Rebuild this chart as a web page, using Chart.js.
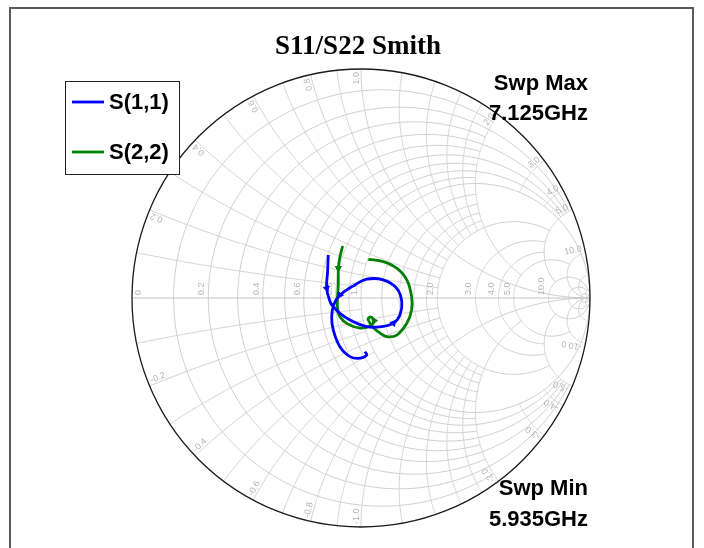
<!DOCTYPE html>
<html>
<head>
<meta charset="utf-8">
<script src="https://cdn.jsdelivr.net/npm/chart.js@4.4.1/dist/chart.umd.min.js"></script>
<style>
  html, body { margin: 0; padding: 0; background: #fff; }
  canvas { display: block; }
</style>
</head>
<body>
<canvas id="smith" width="704" height="548"></canvas>
<script>
const seriesLabels = ['S(1,1)', 'S(2,2)'];
const seriesColors = ['#0000ff', '#008000'];

const s11Re = [-0.143, -0.146, -0.150, -0.135, -0.121, -0.099, -0.048, 0.025, 0.090, 0.141, 0.170, 0.178, 0.156, 0.097, 0.025, -0.035, -0.092, -0.118, -0.128, -0.121, -0.092, -0.048, -0.004, 0.025, 0.017];
const s11Im = [0.188, 0.114, 0.042, -0.016, -0.038, -0.061, -0.096, -0.125, -0.125, -0.110, -0.074, -0.016, 0.042, 0.079, 0.082, 0.052, 0.013, -0.026, -0.082, -0.140, -0.213, -0.256, -0.263, -0.249, -0.234];
const s11Marks = [2, 9, 16];

const s22Re = [-0.080, -0.092, -0.099, -0.099, -0.103, -0.092, -0.057, -0.004, 0.039, 0.057, 0.044, 0.031, 0.052, 0.083, 0.112, 0.156, 0.200, 0.221, 0.221, 0.200, 0.156, 0.097, 0.032];
const s22Im = [0.227, 0.179, 0.130, 0.064, -0.038, -0.082, -0.114, -0.131, -0.122, -0.100, -0.083, -0.092, -0.127, -0.153, -0.169, -0.162, -0.110, -0.052, 0.006, 0.079, 0.130, 0.159, 0.169];
const s22Marks = [2, 9];

const sweepMax = ['Swp Max', '7.125GHz'];
const sweepMin = ['Swp Min', '5.935GHz'];

// smith grid: [value, how far the line runs along the other family]
const rCircles = [[0.1, 2], [0.2, 5], [0.3, 2], [0.4, 5], [0.5, 2], [0.6, 5], [0.7, 2], [0.8, 5], [0.9, 2], [1, 1e9],
  [1.2, 2], [1.4, 2], [1.6, 2], [1.8, 2], [2, 5], [3, 5], [4, 5], [5, 10], [10, 1e9], [20, 50], [50, 1e9]];
const xArcs = [[0.1, 1], [0.2, 2], [0.3, 1], [0.4, 2], [0.5, 1], [0.6, 2], [0.7, 1], [0.8, 2], [0.9, 1], [1, 1e9],
  [1.2, 2], [1.4, 2], [1.6, 2], [1.8, 2], [2, 5], [3, 1], [4, 1], [5, 10], [10, 1e9], [20, 50], [50, 1e9]];
const gridLabels = [0.2, 0.4, 0.6, 0.8, 1.0, 2.0, 3.0, 4.0, 5.0, 10.0];

function zToGamma(r, x) {
  const d = (r + 1) * (r + 1) + x * x;
  return [(r * r + x * x - 1) / d, 2 * x / d];
}

function toPoints(re, im) {
  return re.map((v, i) => ({ x: v, y: im[i] }));
}

// arrow direction (degrees, 0 = up) from one sample to the next
function markRotation(re, im) {
  return re.map((v, i) => {
    const j = Math.min(i + 1, re.length - 1), k = j === i ? i - 1 : i;
    const dx = re[j] - re[k], dy = im[j] - im[k];
    return Math.atan2(dx, dy) * 180 / Math.PI;
  });
}

const smithGrid = {
  id: 'smithGrid',
  beforeDatasetsDraw(chart) {
    const ctx = chart.ctx;
    const xs = chart.scales.x, ys = chart.scales.y;
    const px = g => [xs.getPixelForValue(g[0]), ys.getPixelForValue(g[1])];
    const N = 260;

    ctx.save();
    ctx.strokeStyle = '#cfcfcf';
    ctx.lineWidth = 1;

    rCircles.forEach(([r, xmax]) => {
      const a = Math.atan(xmax);
      ctx.beginPath();
      for (let i = 0; i <= N; i++) {
        const p = px(zToGamma(r, Math.tan(-a + 2 * a * i / N)));
        i ? ctx.lineTo(p[0], p[1]) : ctx.moveTo(p[0], p[1]);
      }
      ctx.stroke();
    });

    xArcs.forEach(([x, rmax]) => {
      const a = Math.atan(rmax);
      [x, -x].forEach(xv => {
        ctx.beginPath();
        for (let i = 0; i <= N; i++) {
          const p = px(zToGamma(Math.tan(a * i / N), xv));
          i ? ctx.lineTo(p[0], p[1]) : ctx.moveTo(p[0], p[1]);
        }
        ctx.stroke();
      });
    });

    // real axis
    const l = px([-1, 0]), rt = px([1, 0]);
    ctx.strokeStyle = '#c4c4c4';
    ctx.beginPath();
    ctx.moveTo(l[0], l[1]);
    ctx.lineTo(rt[0], rt[1]);
    ctx.stroke();

    // outer rim
    const c = px([0, 0]);
    const rad = xs.getPixelForValue(1) - c[0];
    ctx.strokeStyle = '#1a1a1a';
    ctx.lineWidth = 1.3;
    ctx.beginPath();
    ctx.arc(c[0], c[1], rad, 0, Math.PI * 2);
    ctx.stroke();

    // grid labels
    ctx.fillStyle = '#b4b4b4';
    ctx.font = '9px "Liberation Sans", Arial, sans-serif';
    [0].concat(gridLabels).forEach(r => {
      const p = px(zToGamma(r, 0));
      ctx.save();
      ctx.translate(r === 0 ? p[0] + 11 : p[0] - 2, p[1] - 3);
      ctx.rotate(-Math.PI / 2);
      ctx.textAlign = 'left';
      ctx.textBaseline = 'bottom';
      ctx.fillText(r === 0 ? '0' : r.toFixed(1), 0, 0);
      ctx.restore();
    });
    gridLabels.forEach(x => {
      [x, -x].forEach(xv => {
        const p = px(zToGamma(0, xv));
        const ang = Math.atan2(c[1] - p[1], c[0] - p[0]); // inward
        ctx.save();
        ctx.translate(p[0] + Math.cos(ang) * 3, p[1] + Math.sin(ang) * 3);
        if (xv > 0) {
          ctx.rotate(ang + Math.PI);
          ctx.textAlign = 'right';
        } else {
          ctx.rotate(ang);
          ctx.textAlign = 'left';
        }
        ctx.textBaseline = 'bottom';
        ctx.fillText((xv < 0 ? '-' : '') + x.toFixed(1), 0, 0);
        ctx.restore();
      });
    });
    ctx.restore();
  }
};

const decorations = {
  id: 'decorations',
  afterDraw(chart) {
    const ctx = chart.ctx;
    ctx.save();

    // outer frame
    ctx.strokeStyle = '#5a5a5a';
    ctx.lineWidth = 2;
    ctx.strokeRect(10, 8, 683, 560);

    // title
    ctx.fillStyle = '#000';
    ctx.font = 'bold 27px "Liberation Serif", "Times New Roman", serif';
    ctx.textAlign = 'center';
    ctx.textBaseline = 'middle';
    ctx.fillText('S11/S22 Smith', 358, 47);

    // legend
    ctx.fillStyle = '#fff';
    ctx.fillRect(65, 81, 115, 94);
    ctx.strokeStyle = '#222';
    ctx.lineWidth = 1;
    ctx.strokeRect(65.5, 81.5, 114, 93);
    ctx.font = 'bold 22px "Liberation Sans", Arial, sans-serif';
    ctx.textAlign = 'left';
    seriesLabels.forEach((lab, i) => {
      const y = 102 + i * 50;
      ctx.strokeStyle = seriesColors[i];
      ctx.lineWidth = 2.8;
      ctx.beginPath();
      ctx.moveTo(72, y);
      ctx.lineTo(104, y);
      ctx.stroke();
      ctx.fillStyle = '#000';
      ctx.fillText(lab, 109, y + 1);
    });

    // sweep annotations
    ctx.textAlign = 'right';
    ctx.fillText(sweepMax[0], 588, 84);
    ctx.fillText(sweepMax[1], 588, 114);
    ctx.fillText(sweepMin[0], 588, 489);
    ctx.fillText(sweepMin[1], 588, 520);
    ctx.restore();
  }
};

const traces = [
  { pts: toPoints(s11Re, s11Im), rot: markRotation(s11Re, s11Im), marks: s11Marks },
  { pts: toPoints(s22Re, s22Im), rot: markRotation(s22Re, s22Im), marks: s22Marks }
];

new Chart(document.getElementById('smith'), {
  type: 'scatter',
  data: {
    datasets: traces.map((t, i) => ({
      label: seriesLabels[i],
      data: t.pts,
      showLine: true,
      borderColor: seriesColors[i],
      backgroundColor: seriesColors[i],
      borderWidth: 2.8,
      pointStyle: 'triangle',
      pointRadius: t.pts.map((p, k) => t.marks.includes(k) ? 3.5 : 0),
      pointRotation: t.rot,
      pointBorderWidth: 1,
      tension: 0.4
    }))
  },
  options: {
    responsive: false,
    animation: false,
    layout: { padding: { left: 132, right: 114, top: 69, bottom: 21 } },
    scales: {
      x: { type: 'linear', min: -1, max: 1, display: false },
      y: { type: 'linear', min: -1, max: 1, display: false }
    },
    plugins: {
      legend: { display: false },
      title: { display: false },
      tooltip: { enabled: false }
    }
  },
  plugins: [smithGrid, decorations]
});
</script>
</body>
</html>
